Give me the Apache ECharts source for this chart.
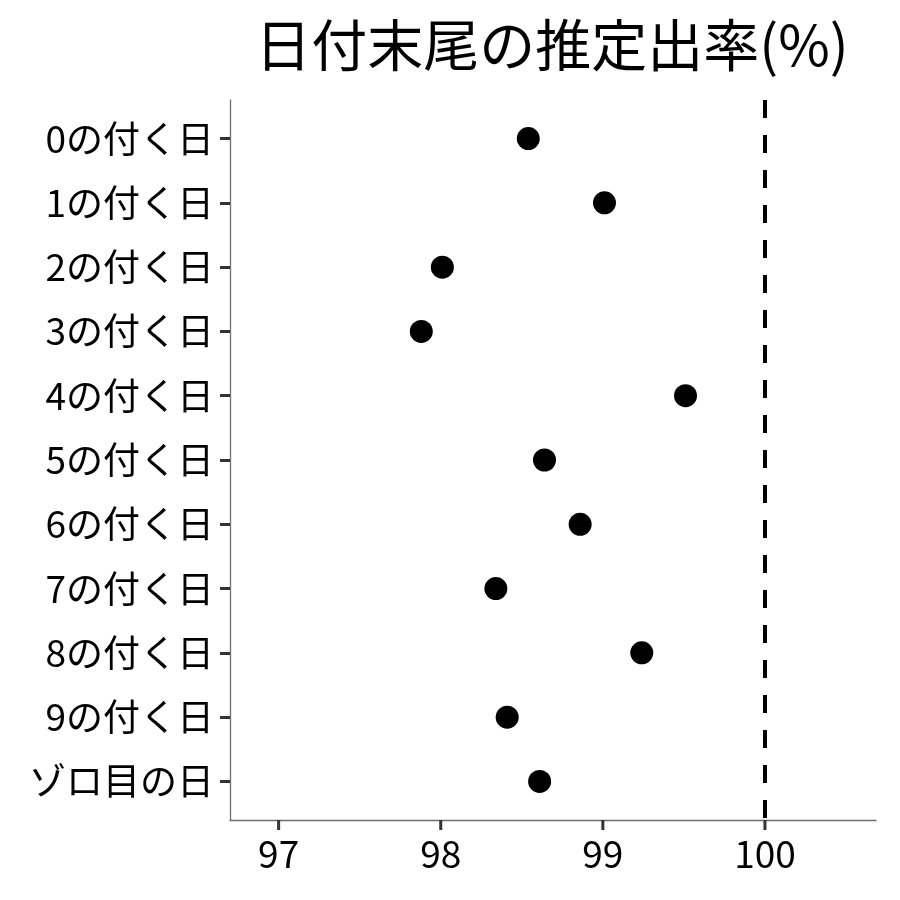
<!DOCTYPE html>
<html lang="ja">
<head>
  <meta charset="UTF-8">
  <title>日付末尾の推定出率</title>
  <script src="https://cdn.jsdelivr.net/npm/echarts@6/dist/echarts.min.js"></script>
  <style>
    html, body { margin: 0; padding: 0; background: #fff; }
    #wrap { width: 900px; height: 900px; }
  </style>
</head>
<body>
<div id="wrap"></div>
<script>
  // データ
  const categories = ["0の付く日", "1の付く日", "2の付く日", "3の付く日", "4の付く日",
    "5の付く日", "6の付く日", "7の付く日", "8の付く日", "9の付く日", "ゾロ目の日"]
  const rates = [98.54, 99.01, 98.01, 97.88, 99.51, 98.64, 98.86, 98.34, 99.24, 98.41, 98.61]
  const xTicks = [97, 98, 99, 100]
  const refLine = 100

  const font = "'Noto Sans CJK JP', 'Noto Sans', sans-serif"
  const chart = echarts.init(document.querySelector("#wrap"))

  // 行の位置は 1 始まり
  const rows = categories.map((c, i) => i + 1)
  const yMin = 0.4
  const yMax = categories.length + 0.6

  const ops = {
    animation: false,
    backgroundColor: "#fff",
    title: {
      text: "日付末尾の推定出率(%)",
      left: 547,
      top: 12,
      textAlign: "center",
      textStyle: { fontFamily: font, fontSize: 56, fontWeight: "normal", color: "#000" }
    },
    grid: { left: 230, right: 24, top: 100, bottom: 80 },
    xAxis: {
      type: "value",
      min: 96.7,
      max: 100.685,
      splitLine: { show: false },
      axisLine: { show: true, onZero: false, lineStyle: { color: "#6e6e6e", width: 1.3 } },
      axisTick: { show: false },
      axisLabel: {
        customValues: xTicks, margin: 15,
        fontFamily: font, fontSize: 37, color: "#000"
      }
    },
    yAxis: {
      type: "value",
      inverse: true,
      min: yMin,
      max: yMax,
      splitLine: { show: false },
      axisLine: { show: true, onZero: false, lineStyle: { color: "#6e6e6e", width: 1.3 } },
      axisTick: { show: true, customValues: rows, length: 10, lineStyle: { color: "#333", width: 3 } },
      axisLabel: {
        customValues: rows, margin: 16,
        fontFamily: font, fontSize: 37, color: "#000",
        formatter: v => categories[Math.round(v) - 1]
      }
    },
    series: [
      {
        type: "scatter",
        data: rates.map((r, i) => [r, rows[i]]),
        symbolSize: 23,
        z: 3,
        itemStyle: { color: "#000", opacity: 1 },
        markLine: {
          silent: true,
          symbol: "none",
          label: { show: false },
          lineStyle: { color: "#000", width: 4, type: [18, 17] },
          data: [{ xAxis: refLine }]
        }
      },
      {
        // x 軸の目盛り(軸の下端から下向き)
        type: "custom",
        silent: true,
        clip: false,
        z: 5,
        data: xTicks.map(v => [v, yMax]),
        renderItem: (params, api) => {
          const p = api.coord([api.value(0), api.value(1)])
          return {
            type: "line",
            shape: { x1: p[0], y1: p[1], x2: p[0], y2: p[1] + 10 },
            style: { stroke: "#333", lineWidth: 3 }
          }
        }
      }
    ]
  }

  chart.setOption(ops)
</script>
</body>
</html>
